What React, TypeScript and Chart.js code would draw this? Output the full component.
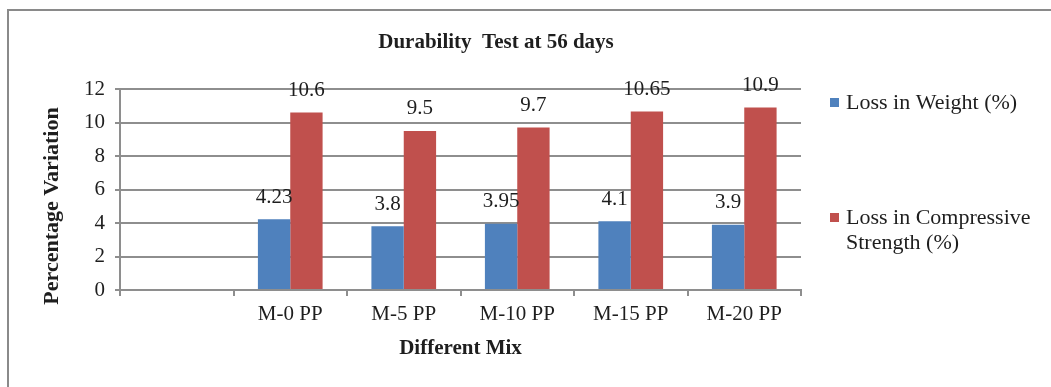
import React, { useEffect, useRef } from "react";
import { Chart, registerables } from "chart.js";

Chart.register(...registerables);

// Mix designations (first slot intentionally empty)
const categories: string[] = ["", "M-0 PP", "M-5 PP", "M-10 PP", "M-15 PP", "M-20 PP"];
const lossInWeight: (number | null)[] = [null, 4.23, 3.8, 3.95, 4.1, 3.9];
const lossInStrength: (number | null)[] = [null, 10.6, 9.5, 9.7, 10.65, 10.9];
const yTicks: number[] = [0, 2, 4, 6, 8, 10, 12];

const seriesNames: string[] = ["Loss in Weight (%)", "Loss in Compressive Strength (%)"];
const legendLines: string[][] = [["Loss in Weight (%)"], ["Loss in Compressive", "Strength (%)"]];
const seriesColors: string[] = ["#4F81BD", "#C0504D"];

const chartTitle = "Durability  Test at 56 days";
const xTitle = "Different Mix";
const yTitle = "Percentage Variation";

const SERIF = '"Liberation Serif", "Times New Roman", serif';
const TEXT = "#1e1e1e";
const GRID = "#8e8e8e";

// Value labels above each bar
const valueLabels = {
  id: "valueLabels",
  afterDatasetsDraw(chart: any) {
    const ctx = chart.ctx;
    ctx.save();
    ctx.font = `21px ${SERIF}`;
    ctx.fillStyle = TEXT;
    ctx.textAlign = "center";
    ctx.textBaseline = "middle";
    chart.data.datasets.forEach((ds: any, di: number) => {
      const meta = chart.getDatasetMeta(di);
      meta.data.forEach((bar: any, i: number) => {
        const v = ds.data[i];
        if (v === null || v === undefined) return;
        ctx.fillText(String(v), bar.x, bar.y - 22);
      });
    });
    ctx.restore();
  },
};

// Title, vertical axis title and the wrapped legend on the right
const decorations = {
  id: "decorations",
  afterDraw(chart: any) {
    const ctx = chart.ctx;
    const area = chart.chartArea;
    ctx.save();
    ctx.fillStyle = TEXT;
    ctx.textBaseline = "middle";

    ctx.font = `bold 21px ${SERIF}`;
    ctx.textAlign = "center";
    ctx.fillText(chartTitle, area.left + 376, 43);

    ctx.save();
    ctx.translate(52, 206);
    ctx.rotate(-Math.PI / 2);
    ctx.font = `bold 22px ${SERIF}`;
    ctx.fillText(yTitle, 0, 0);
    ctx.restore();

    ctx.font = `22px ${SERIF}`;
    ctx.textAlign = "left";
    const legendX = area.right + 29;
    const itemY = [103, 218];
    legendLines.forEach((lines, i) => {
      ctx.fillStyle = seriesColors[i];
      ctx.fillRect(legendX, itemY[i] - 5, 9, 9);
      ctx.fillStyle = TEXT;
      lines.forEach((line, j) => {
        ctx.fillText(line, legendX + 16, itemY[i] + j * 25);
      });
    });
    ctx.restore();
  },
};

export default function App() {
  const canvasRef = useRef<HTMLCanvasElement | null>(null);

  useEffect(() => {
    if (!canvasRef.current) return;
    const chart = new Chart(canvasRef.current, {
      type: "bar",
      data: {
        labels: categories,
        datasets: [
          {
            label: seriesNames[0],
            data: lossInWeight,
            backgroundColor: seriesColors[0],
            categoryPercentage: 0.57,
            barPercentage: 1,
          },
          {
            label: seriesNames[1],
            data: lossInStrength,
            backgroundColor: seriesColors[1],
            categoryPercentage: 0.57,
            barPercentage: 1,
          },
        ],
      },
      options: {
        animation: false,
        responsive: false,
        layout: { padding: { left: 0, right: 250, top: 89, bottom: 0 } },
        plugins: {
          legend: { display: false },
          title: { display: false },
          tooltip: { enabled: false },
        },
        scales: {
          x: {
            grid: {
              offset: true,
              drawOnChartArea: false,
              color: GRID,
              lineWidth: 2,
              tickLength: 6,
            },
            border: { color: GRID, width: 2 },
            ticks: {
              color: TEXT,
              padding: 6,
              font: { family: SERIF, size: 21 },
            },
            title: {
              display: true,
              text: xTitle,
              color: TEXT,
              font: { family: SERIF, size: 21, weight: "bold" },
              padding: { top: 0, bottom: 26 },
            },
            afterFit: (s: any) => {
              s.height = 97;
            },
          },
          y: {
            min: 0,
            max: 12,
            afterBuildTicks: (s: any) => {
              s.ticks = yTicks.map((v) => ({ value: v }));
            },
            grid: { color: GRID, lineWidth: 2, tickLength: 5 },
            border: { color: GRID, width: 2 },
            ticks: {
              color: TEXT,
              padding: 10,
              font: { family: SERIF, size: 21 },
            },
            afterFit: (s: any) => {
              s.width = 120;
            },
          },
        },
      },
      plugins: [valueLabels, decorations],
    });
    return () => chart.destroy();
  }, []);

  return (
    <div>
      <div
        style={{
          position: "fixed",
          left: 7,
          top: 9,
          right: -20,
          bottom: -20,
          borderTop: "2px solid #8a8a8a",
          borderLeft: "2px solid #8a8a8a",
          background: "#ffffff",
        }}
      />
      <canvas
        ref={canvasRef}
        width={1051}
        height={387}
        style={{ position: "fixed", left: 0, top: 0, width: 1051, height: 387 }}
      />
    </div>
  );
}
